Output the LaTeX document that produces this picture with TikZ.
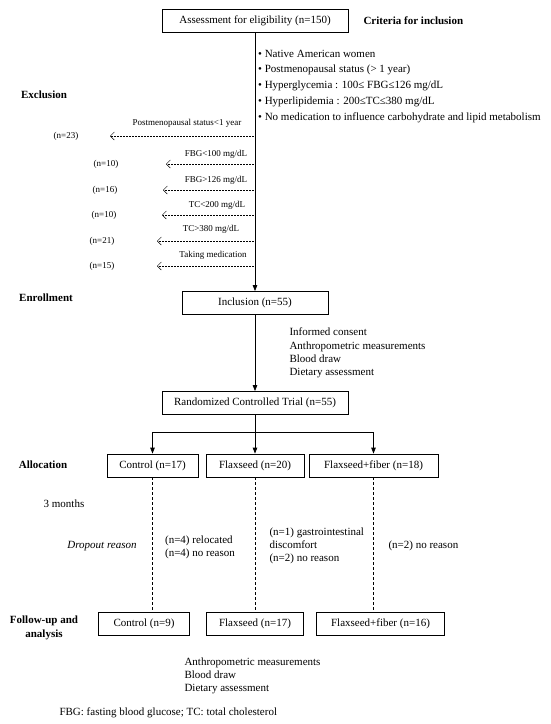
\documentclass[tikz,border=0pt]{standalone}
\usepackage{fontspec}
\setmainfont{Liberation Serif}
\usetikzlibrary{arrows.meta}

\tikzset{
  box/.style={draw, line width=0.8pt, minimum height=23pt, inner sep=0pt},
  side/.style={font=\fontsize{11}{13.3}\selectfont\bfseries, align=center},
  excl/.style={font=\fontsize{9}{10}\selectfont},
  exarrow/.style={line width=0.5pt, densely dotted, -{Straight Barb[length=4pt,width=8pt]}},
  mainarrow/.style={line width=0.8pt, -{Triangle[length=6pt,width=4.5pt]}},
  dashline/.style={line width=0.6pt, dash pattern=on 3pt off 2pt},
}

\begin{document}
\begin{tikzpicture}[x=1pt,y=-1pt,font=\fontsize{11}{13.3}\selectfont]
\useasboundingbox (0,0) rectangle (550,724);

% main column
\node[box, minimum width=186pt] (assess) at (255,20.5) {Assessment for eligibility (n=150)};
\node[side, anchor=west]        (crit)   at (360,21)   {Criteria for inclusion};
\node[box, minimum width=146pt] (incl)   at (255,303)  {Inclusion (n=55)};
\node[box, minimum width=186pt] (rct)    at (255,403)  {Randomized Controlled Trial (n=55)};
\draw[mainarrow] (assess) -- (incl);
\draw[mainarrow] (incl) -- (rct);

% criteria
\foreach \y/\txt [count=\i] in {54/{Native American women},
    70/{Postmenopausal status (> 1 year)},
    86/{Hyperglycemia : 100≤ FBG≤126 mg/dL},
    102/{Hyperlipidemia : 200≤TC≤380 mg/dL},
    118/{No medication to influence carbohydrate and lipid metabolism}} {
  \node[anchor=west, inner sep=0pt] (crit\i) at (258,\y) {\textbullet\ \txt};
}

% exclusions
\foreach \y/\tip/\cx/\lx/\ly/\n/\txt [count=\i] in {
    136/110/66/187/123/23/{Postmenopausal status<1 year},
    164/166/106/216/154/10/{FBG<100 mg/dL},
    190/163/105/216/180/16/{FBG>126 mg/dL},
    215/162/104/217/205/10/{TC<200 mg/dL},
    241/157/102/211/229/21/{TC>380 mg/dL},
    266/157/102/213/255/15/{Taking medication}} {
  \coordinate (tip\i) at (\tip,\y);
  \node[excl] (cnt\i) at (\cx,\y) {(n=\n)};
  \node[excl] (why\i) at (\lx,\ly) {\txt};
  \draw[exarrow] (tip\i -| assess.south) -- (tip\i);
}

% enrollment
\node[anchor=west, align=left] (enrol) at (286,353)
  {Informed consent\\Anthropometric measurements\\Blood draw\\Dietary assessment};

% allocation
\node[box, minimum width=91pt]  (ctl) at (152.5,465.5) {Control (n=17)};
\node[box, minimum width=98pt]  (flx) at (255,465.5)   {Flaxseed (n=20)};
\node[box, minimum width=129pt] (fib) at (373.5,465.5) {Flaxseed+fiber (n=18)};
\coordinate (split) at (255,432);
\draw[line width=0.8pt] (rct) -- (split);
\draw[line width=0.8pt] (split -| ctl) -- (split -| fib);
\foreach \b in {ctl,flx,fib}
  \draw[mainarrow] (split -| \b) -- (\b.north);

% follow-up
\node[box, minimum width=91pt]  (ctlend) at (144,624)   {Control (n=9)};
\node[box, minimum width=97pt]  (flxend) at (255,624)   {Flaxseed (n=17)};
\node[box, minimum width=128pt] (fibend) at (380.5,624) {Flaxseed+fiber (n=16)};
\foreach \b in {ctl,flx,fib}
  \draw[dashline] (\b.south) -- (\b.south |- \b end.north);

% dropouts
\node[align=left] (drop1) at (200,547) {(n=4) relocated\\(n=4) no reason};
\node[anchor=west, align=left] (drop2) at (266,546)
  {(n=1) gastrointestinal\\discomfort\\(n=2) no reason};
\node[anchor=west] (drop3) at (385,546) {(n=2) no reason};

\node[anchor=west, align=left] (final) at (181,676)
  {Anthropometric measurements\\Blood draw\\Dietary assessment};

% side labels
\node[side] (lexcl)  at (44,95)  {Exclusion};
\node[side] (lenrol) at (46,298) {Enrollment};
\node[side] (lalloc) at (43,465) {Allocation};
\node (lmonth) at (64,504) {3 months};
\node[font=\fontsize{11}{13.3}\selectfont\itshape] (ldrop) at (102,546) {Dropout reason};
\node[side] (lfollow) at (44,628) {Follow-up and\\analysis};

\node[anchor=west] (note) at (56,713) {FBG: fasting blood glucose; TC: total cholesterol};
\end{tikzpicture}
\end{document}
